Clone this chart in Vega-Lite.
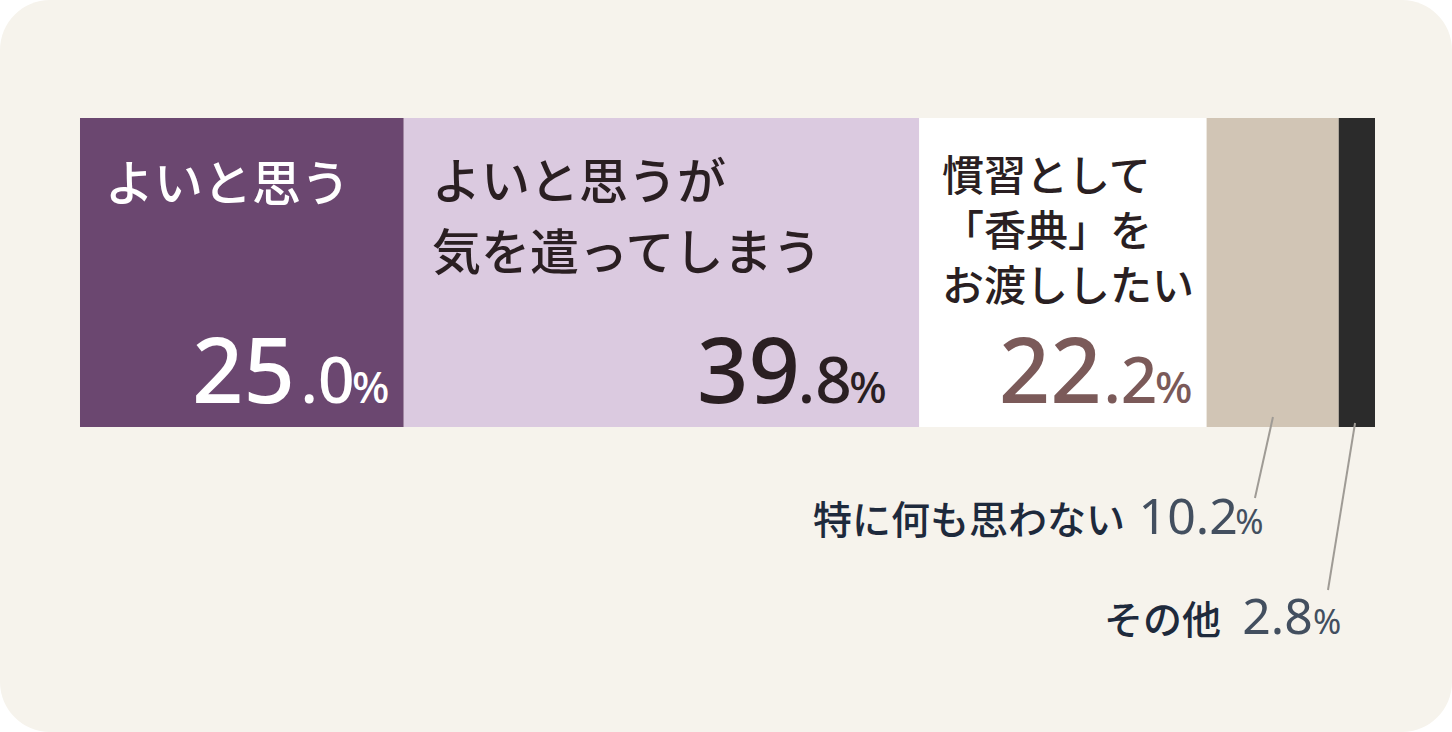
{
  "$schema": "https://vega.github.io/schema/vega-lite/v6.json",
  "autosize": {"type": "fit", "contains": "padding"},
  "width": 1452,
  "height": 732,
  "padding": 0,
  "background": "#ffffff",
  "config": {"view": {"stroke": null}},
  "datasets": {
    "frame": [{"x": -6.1776, "x2": 105.9459, "y": 0, "y2": 732}],
    "segments": [
      {"cat": "よいと思う", "value": 25.0, "start": 0, "end": 25.0, "top": 118, "bottom": 427},
      {"cat": "よいと思うが気を遣ってしまう", "value": 39.8, "start": 25.0, "end": 64.8, "top": 118, "bottom": 427},
      {"cat": "慣習として「香典」をお渡ししたい", "value": 22.2, "start": 64.8, "end": 87.0, "top": 118, "bottom": 427},
      {"cat": "特に何も思わない", "value": 10.2, "start": 87.0, "end": 97.2, "top": 118, "bottom": 427},
      {"cat": "その他", "value": 2.8, "start": 97.2, "end": 100.0, "top": 118, "bottom": 427}
    ],
    "labels": [
      {"seg": "a", "text": ["よいと思う"], "x": 1.93, "y": 201, "tone": "light"},
      {"seg": "a", "text": ["よいと思うが", "気を遣ってしまう"], "x": 27.18, "y": 199, "tone": "dark"},
      {"seg": "b", "text": ["慣習として", "「香典」を", "お渡ししたい"], "x": 66.56, "y": 191, "tone": "dark"}
    ],
    "numbers": [
      {"int": "25", "dec": ".0", "xInt": 16.6, "xDec": 21.2, "xPct": 23.9, "y": 403, "tone": "light"},
      {"int": "39", "dec": ".8", "xInt": 55.6, "xDec": 59.6, "xPct": 62.3, "y": 403, "tone": "dark"},
      {"int": "22", "dec": ".2", "xInt": 78.9, "xDec": 83.2, "xPct": 85.9, "y": 403, "tone": "brown"}
    ],
    "others": [
      {"label": "特に何も思わない", "num": "10.2", "xLabel": 80.7, "xNum": 89.4, "xPct": 91.4, "y": 534},
      {"label": "その他", "num": "2.8", "xLabel": 88.1, "xNum": 95.2, "xPct": 97.4, "y": 634}
    ],
    "leaders": [
      {"x": 92.12, "x2": 90.73, "y": 417, "y2": 498},
      {"x": 98.46, "x2": 96.37, "y": 423, "y2": 590}
    ]
  },
  "resolve": {"scale": {"color": "independent"}},
  "layer": [
    {
      "data": {"name": "frame"},
      "mark": {"type": "rect", "fill": "#f6f3ec", "cornerRadius": 50},
      "encoding": {
        "x": {"field": "x", "type": "quantitative", "axis": null, "scale": {"domain": [-6.1776, 105.9459], "nice": false, "zero": false}},
        "x2": {"field": "x2"},
        "y": {"field": "y", "type": "quantitative", "axis": null, "scale": {"domain": [0, 732], "reverse": true, "nice": false, "zero": false}},
        "y2": {"field": "y2"}
      }
    },
    {
      "data": {"name": "segments"},
      "mark": {"type": "rect"},
      "encoding": {
        "x": {"field": "start", "type": "quantitative", "axis": null},
        "x2": {"field": "end"},
        "y": {"field": "top", "type": "quantitative", "axis": null},
        "y2": {"field": "bottom"},
        "color": {
          "field": "cat", "type": "nominal", "legend": null,
          "scale": {
            "domain": ["よいと思う", "よいと思うが気を遣ってしまう", "慣習として「香典」をお渡ししたい", "特に何も思わない", "その他"],
            "range": ["#6b4770", "#dbcae0", "#ffffff", "#d1c5b5", "#2b2b2b"]
          }
        },
        "tooltip": [{"field": "cat", "type": "nominal"}, {"field": "value", "type": "quantitative"}]
      }
    },
    {
      "data": {"name": "leaders"},
      "mark": {"type": "rule", "color": "#9f9b95", "strokeWidth": 2},
      "encoding": {
        "x": {"field": "x", "type": "quantitative", "axis": null},
        "x2": {"field": "x2"},
        "y": {"field": "y", "type": "quantitative", "axis": null},
        "y2": {"field": "y2"}
      }
    },
    {
      "data": {"name": "labels"},
      "transform": [{"filter": "datum.seg == 'a'"}],
      "mark": {"type": "text", "align": "left", "baseline": "alphabetic", "font": "Noto Sans CJK JP", "fontSize": 49, "fontWeight": 500, "lineHeight": 71},
      "encoding": {
        "x": {"field": "x", "type": "quantitative", "axis": null},
        "y": {"field": "y", "type": "quantitative", "axis": null},
        "text": {"field": "text"},
        "color": {"field": "tone", "type": "nominal", "legend": null, "scale": {"domain": ["light", "dark", "brown"], "range": ["#ffffff", "#2a1f22", "#7b5a59"]}}
      }
    },
    {
      "data": {"name": "labels"},
      "transform": [{"filter": "datum.seg == 'b'"}],
      "mark": {"type": "text", "align": "left", "baseline": "alphabetic", "font": "Noto Sans CJK JP", "fontSize": 42, "fontWeight": 500, "lineHeight": 55, "color": "#2a1f22"},
      "encoding": {
        "x": {"field": "x", "type": "quantitative", "axis": null},
        "y": {"field": "y", "type": "quantitative", "axis": null},
        "text": {"field": "text"}
      }
    },
    {
      "data": {"name": "numbers"},
      "mark": {"type": "text", "align": "right", "baseline": "alphabetic", "font": "Noto Sans", "fontSize": 90, "fontWeight": 500},
      "encoding": {
        "x": {"field": "xInt", "type": "quantitative", "axis": null},
        "y": {"field": "y", "type": "quantitative", "axis": null},
        "text": {"field": "int"},
        "color": {"field": "tone", "type": "nominal", "legend": null, "scale": {"domain": ["light", "dark", "brown"], "range": ["#ffffff", "#2a1f22", "#7b5a59"]}}
      }
    },
    {
      "data": {"name": "numbers"},
      "mark": {"type": "text", "align": "right", "baseline": "alphabetic", "font": "Noto Sans", "fontSize": 64, "fontWeight": 500},
      "encoding": {
        "x": {"field": "xDec", "type": "quantitative", "axis": null},
        "y": {"field": "y", "type": "quantitative", "axis": null},
        "text": {"field": "dec"},
        "color": {"field": "tone", "type": "nominal", "legend": null, "scale": {"domain": ["light", "dark", "brown"], "range": ["#ffffff", "#2a1f22", "#7b5a59"]}}
      }
    },
    {
      "data": {"name": "numbers"},
      "mark": {"type": "text", "align": "right", "baseline": "alphabetic", "font": "Noto Sans", "fontSize": 44, "fontWeight": 500, "text": "%"},
      "encoding": {
        "x": {"field": "xPct", "type": "quantitative", "axis": null},
        "y": {"field": "y", "type": "quantitative", "axis": null},
        "color": {"field": "tone", "type": "nominal", "legend": null, "scale": {"domain": ["light", "dark", "brown"], "range": ["#ffffff", "#2a1f22", "#7b5a59"]}}
      }
    },
    {
      "data": {"name": "others"},
      "mark": {"type": "text", "align": "right", "baseline": "alphabetic", "font": "Noto Sans CJK JP", "fontSize": 39, "fontWeight": 500, "color": "#1e2a3c"},
      "encoding": {
        "x": {"field": "xLabel", "type": "quantitative", "axis": null},
        "y": {"field": "y", "type": "quantitative", "axis": null},
        "text": {"field": "label"}
      }
    },
    {
      "data": {"name": "others"},
      "mark": {"type": "text", "align": "right", "baseline": "alphabetic", "font": "Noto Sans", "fontSize": 50, "fontWeight": 400, "color": "#434f5f"},
      "encoding": {
        "x": {"field": "xNum", "type": "quantitative", "axis": null},
        "y": {"field": "y", "type": "quantitative", "axis": null},
        "text": {"field": "num"}
      }
    },
    {
      "data": {"name": "others"},
      "mark": {"type": "text", "align": "right", "baseline": "alphabetic", "font": "Noto Sans", "fontSize": 34, "fontWeight": 400, "color": "#434f5f", "text": "%"},
      "encoding": {
        "x": {"field": "xPct", "type": "quantitative", "axis": null},
        "y": {"field": "y", "type": "quantitative", "axis": null}
      }
    }
  ]
}
